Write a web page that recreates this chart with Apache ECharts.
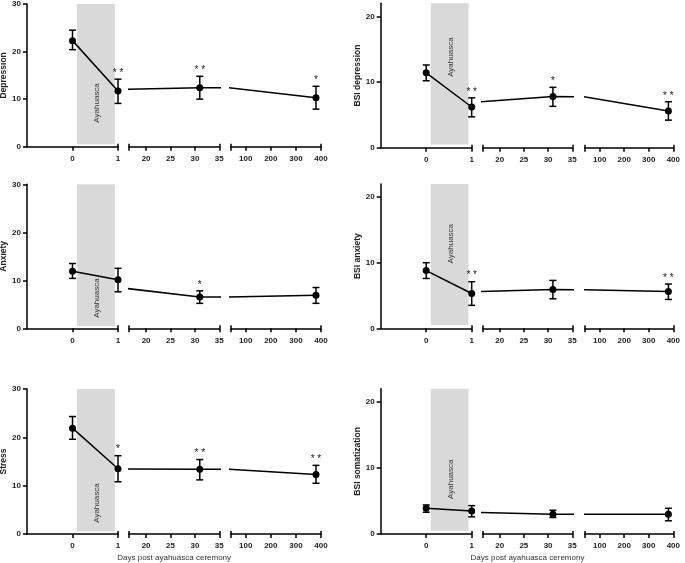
<!DOCTYPE html>
<html><head><meta charset="utf-8">
<script src="https://cdn.jsdelivr.net/npm/echarts@6/dist/echarts.min.js"></script>
<style>html,body{margin:0;padding:0;background:#fff}#c{width:685px;height:563px}</style>
</head><body><div id="c"></div>
<script>
// ---- data ----
const days = [0, 1, 31, 380];

const depression = [22.3, 11.7, 12.4, 10.3];
const depressionLow = [20.4, 9.1, 10.0, 7.9];
const depressionHigh = [24.5, 14.2, 14.8, 12.7];
const depressionSig = ['', '**', '**', '*'];

const bsiDepression = [11.4, 6.2, 7.8, 5.6];
const bsiDepressionLow = [10.2, 4.7, 6.3, 4.2];
const bsiDepressionHigh = [12.6, 7.6, 9.2, 7.0];
const bsiDepressionSig = ['', '**', '*', '**'];

const anxiety = [11.9, 10.1, 6.5, 6.9];
const anxietyLow = [10.4, 7.6, 5.2, 5.2];
const anxietyHigh = [13.5, 12.5, 7.8, 8.5];
const anxietySig = ['', '', '*', ''];

const bsiAnxiety = [8.8, 5.3, 5.9, 5.6];
const bsiAnxietyLow = [7.6, 3.5, 4.5, 4.4];
const bsiAnxietyHigh = [10.0, 7.1, 7.3, 6.75];
const bsiAnxietySig = ['', '**', '', '**'];

const stress = [21.9, 13.5, 13.4, 12.3];
const stressLow = [19.6, 10.8, 11.2, 10.5];
const stressHigh = [24.3, 16.2, 15.4, 14.2];
const stressSig = ['', '*', '**', '**'];

const bsiSomatization = [3.9, 3.5, 3.0, 3.0];
const bsiSomatizationLow = [3.3, 2.6, 2.5, 2.0];
const bsiSomatizationHigh = [4.4, 4.3, 3.6, 3.9];
const bsiSomatizationSig = ['', '', '', ''];

const leftYTicks = [0, 10, 20, 30];
const rightYTicks = [0, 10, 20];
const segTickLabels = [[0, 1], [20, 25, 30, 35], [100, 200, 300, 400]];
const xAxisTitle = 'Days post ayahuasca ceremony';
const shadeLabel = 'Ayahuasca';

// ---- layout / styles ----
const FONT = '"Liberation Sans", Arial, sans-serif';
const segMin = [-1, 16.5, 40];
const segMax = [1, 35, 400];
const segTicks = [[0, 1], [16.5, 20, 25, 30, 35], [40, 100, 200, 300, 400]];
const segCaps = [[1], [16.5, 35], [40, 400]];
const colGeom = [
  {lefts: [27, 129, 230.7], widths: [91, 90.3, 90.3]},
  {lefts: [380.7, 482.7, 585], widths: [91, 89.6, 88.3]}
];
const panels = [
  {name: 'Depression', mean: depression, low: depressionLow, high: depressionHigh, sig: depressionSig, ymax: 30, yTicks: leftYTicks, col: 0, row: 0, top: 4, height: 142.7, labelY: 9.2},
  {name: 'BSI depression', mean: bsiDepression, low: bsiDepressionLow, high: bsiDepressionHigh, sig: bsiDepressionSig, ymax: 22, yTicks: rightYTicks, col: 1, row: 0, top: 3.3, height: 144.4, labelY: 13.8},
  {name: 'Anxiety', mean: anxiety, low: anxietyLow, high: anxietyHigh, sig: anxietySig, ymax: 30, yTicks: leftYTicks, col: 0, row: 1, top: 184.3, height: 144, labelY: 6.3},
  {name: 'BSI anxiety', mean: bsiAnxiety, low: bsiAnxietyLow, high: bsiAnxietyHigh, sig: bsiAnxietySig, ymax: 22, yTicks: rightYTicks, col: 1, row: 1, top: 184, height: 144.3, labelY: 12.9},
  {name: 'Stress', mean: stress, low: stressLow, high: stressHigh, sig: stressSig, ymax: 30, yTicks: leftYTicks, col: 0, row: 2, top: 389, height: 145, labelY: 6.4},
  {name: 'BSI somatization', mean: bsiSomatization, low: bsiSomatizationLow, high: bsiSomatizationHigh, sig: bsiSomatizationSig, ymax: 22, yTicks: rightYTicks, col: 1, row: 2, top: 388.8, height: 145.2, labelY: 8.3}
];

const grids = [], xAxes = [], yAxes = [], series = [];
panels.forEach(p => {
  const g = colGeom[p.col];
  for (let s = 0; s < 3; s++) {
    const gi = grids.length;
    grids.push({left: g.lefts[s], top: p.top, width: g.widths[s], height: p.height, outerBoundsMode: 'none', containLabel: false});
    const xi = xAxes.length;
    xAxes.push({
      type: 'value', gridIndex: gi, position: 'bottom', min: segMin[s], max: segMax[s],
      axisLine: {show: true, onZero: false, lineStyle: {color: '#000', width: 1.5}},
      axisTick: {show: true, customValues: segTicks[s], length: 4, lineStyle: {color: '#000', width: 1.5}},
      axisLabel: {customValues: segTickLabels[s], margin: 8, fontSize: 8, fontWeight: 'bold', color: '#222', fontFamily: FONT},
      splitLine: {show: false},
      name: (p.row === 2 && s === 1) ? xAxisTitle : '',
      nameLocation: 'middle', nameGap: 20,
      nameTextStyle: {fontSize: 8, color: '#333', fontFamily: FONT}
    });
    // segment end caps (upward half of the break ticks)
    xAxes.push({
      type: 'value', gridIndex: gi, position: 'bottom', offset: 0, min: segMin[s], max: segMax[s],
      axisLine: {show: false, onZero: false},
      axisTick: {show: true, inside: true, customValues: segCaps[s], length: 3, lineStyle: {color: '#000', width: 1.5}},
      axisLabel: {show: false}, splitLine: {show: false}
    });
    yAxes.push({
      type: 'value', gridIndex: gi, min: 0, max: p.ymax, show: s === 0,
      axisLine: {show: true, onZero: false, lineStyle: {color: '#000', width: 1.5}},
      axisTick: {show: true, customValues: p.yTicks, length: 4, lineStyle: {color: '#000', width: 1.5}},
      axisLabel: {customValues: p.yTicks, margin: 6, fontSize: 8, fontWeight: 'bold', color: '#222', fontFamily: FONT},
      splitLine: {show: false},
      name: p.name, nameLocation: 'middle', nameGap: p.col === 0 ? 17 : 19,
      nameTextStyle: {fontSize: 8.5, fontWeight: 'bold', color: '#222', fontFamily: FONT}
    });
    const line = {
      type: 'line', xAxisIndex: xi, yAxisIndex: gi,
      data: days.map((d, i) => [d, p.mean[i]]),
      symbol: 'circle', symbolSize: 7, clip: true, silent: true, animation: false, z: 3,
      itemStyle: {color: '#000'}, lineStyle: {color: '#000', width: 1.5}
    };
    if (s === 0) {
      line.markArea = {
        silent: true, itemStyle: {color: '#d9d9d9'},
        data: [[{xAxis: 0.1, yAxis: 0.5}, {xAxis: 0.93, yAxis: p.ymax}]]
      };
    }
    series.push(line);
    const eb = days.map((d, i) => [d, p.low[i], p.high[i], i]).filter(v => v[0] >= segMin[s] && v[0] <= segMax[s]);
    series.push({
      type: 'custom', xAxisIndex: xi, yAxisIndex: gi, data: eb, silent: true, animation: false, z: 4,
      renderItem: (params, api) => {
        const x = api.value(0), lo = api.value(1), hi = api.value(2), idx = api.value(3);
        const a = api.coord([x, lo]), b = api.coord([x, hi]);
        const w = 3.5, st = {stroke: '#000', lineWidth: 1.5};
        const ch = [
          {type: 'line', shape: {x1: a[0], y1: a[1], x2: b[0], y2: b[1]}, style: st},
          {type: 'line', shape: {x1: a[0] - w, y1: a[1], x2: a[0] + w, y2: a[1]}, style: st},
          {type: 'line', shape: {x1: b[0] - w, y1: b[1], x2: b[0] + w, y2: b[1]}, style: st}
        ];
        const sig = p.sig[idx];
        if (sig) ch.push({type: 'text', x: b[0], y: b[1] - 1,
          style: {text: sig.split('').join(' '), align: 'center', verticalAlign: 'bottom', fontSize: 10, fontFamily: FONT, fill: '#222'}});
        return {type: 'group', children: ch};
      }
    });
    if (s === 0) {
      series.push({
        type: 'custom', xAxisIndex: xi, yAxisIndex: gi, data: [[0.53, p.labelY]], silent: true, animation: false, z: 2,
        renderItem: (params, api) => {
          const c = api.coord([api.value(0), api.value(1)]);
          return {type: 'text', x: c[0], y: c[1], rotation: Math.PI / 2,
            style: {text: shadeLabel, align: 'center', verticalAlign: 'middle', fontSize: 8, fontFamily: FONT, fill: '#333'}};
        }
      });
    }
  }
});

const chart = echarts.init(document.getElementById('c'), null, {renderer: 'canvas'});
chart.setOption({animation: false, backgroundColor: '#fff', grid: grids, xAxis: xAxes, yAxis: yAxes, series: series});
</script>
</body></html>
